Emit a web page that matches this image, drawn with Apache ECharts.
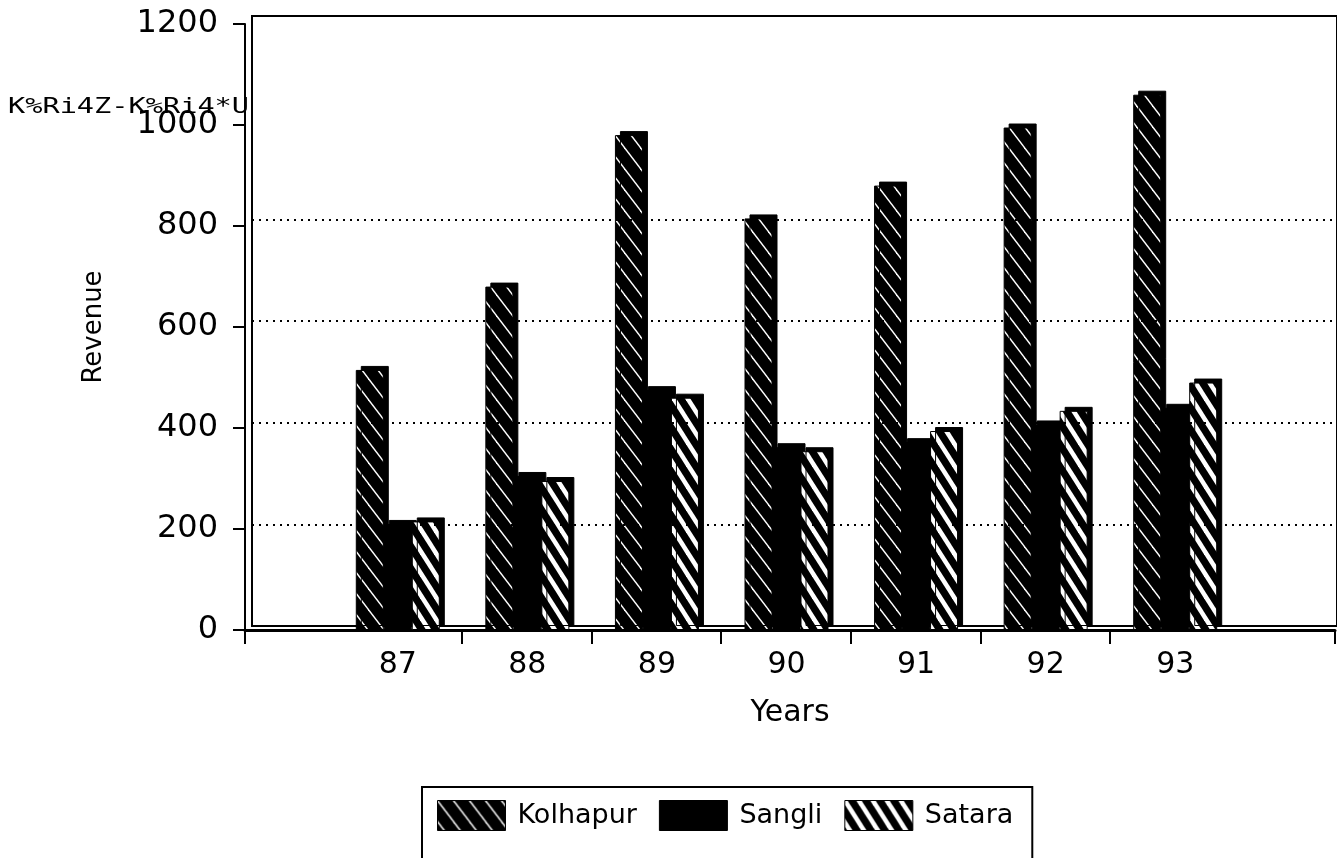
<!DOCTYPE html>
<html>
<head>
<meta charset="utf-8">
<script src="https://cdn.jsdelivr.net/npm/echarts@6/dist/echarts.min.js"></script>
<style>
html,body{margin:0;padding:0;background:#fff;}
#chart{width:1337px;height:858px;}
</style>
</head>
<body>
<div id="chart"></div>
<script>
// ---- data ----
const categories = ['87', '88', '89', '90', '91', '92', '93'];
const seriesNames = ['Kolhapur', 'Sangli', 'Satara'];
const kolhapur = [515, 680, 980, 815, 880, 995, 1060];
const sangli = [210, 305, 475, 362, 372, 407, 440];
const satara = [215, 295, 460, 354, 394, 434, 490];
const gridValues = [200, 400, 600, 800];
const yMin = 0, yMax = 1200, yStep = 200;
const garbledText = 'K%Ri4Z-K%Ri4*U';

// ---- patterns ----
function hatch(W, H, lw) {
  const c = document.createElement('canvas');
  c.width = W; c.height = H;
  const g = c.getContext('2d');
  g.fillStyle = '#000'; g.fillRect(0, 0, W, H);
  g.strokeStyle = '#fff'; g.lineWidth = lw;
  for (let k = -1; k <= 1; k++) {
    g.beginPath();
    g.moveTo(k * W - W, -H);
    g.lineTo(k * W + 2 * W, 2 * H);
    g.stroke();
  }
  return c;
}
const patKol = { image: hatch(16, 21, 1.4), repeat: 'repeat' };
const patSat = { image: hatch(14, 22, 4.5), repeat: 'repeat' };

const FONT = 'DejaVu Sans';
const chart = echarts.init(document.getElementById('chart'), null, { renderer: 'canvas' });

// frame x range so that category boundaries sit on integers
const xMinF = -0.674, xMaxF = 7.736;

function barSeries(name, data, color) {
  return {
    name: name, type: 'bar', xAxisIndex: 1, yAxisIndex: 1,
    data: data, barWidth: 28, barGap: '0%',
    itemStyle: {
      color: color, borderColor: '#000', borderWidth: 1,
      shadowColor: '#000', shadowBlur: 0, shadowOffsetX: 5, shadowOffsetY: -4
    },
    z: 3
  };
}

const option = {
  animation: false,
  backgroundColor: '#fff',
  textStyle: { fontFamily: FONT, color: '#000' },
  grid: [
    { left: 245, right: 2, top: 24, bottom: 228 },           // front frame
    { left: 333, right: 97, top: 24, bottom: 228 },          // bars
    { left: 252, right: -5, top: 16, bottom: 232, show: true, borderColor: '#000', borderWidth: 2, backgroundColor: 'transparent' } // back wall
  ],
  xAxis: [
    {
      gridIndex: 0, type: 'value', min: xMinF, max: xMaxF,
      name: 'Years', nameLocation: 'middle', nameGap: 68,
      nameTextStyle: { fontSize: 30, fontFamily: FONT, color: '#000' },
      axisLine: { show: true, onZero: false, lineStyle: { color: '#000', width: 3 } },
      axisTick: { show: true, length: 14, lineStyle: { color: '#000', width: 2 },
        customValues: [xMinF, 1, 2, 3, 4, 5, 6, xMaxF] },
      axisLabel: { show: false },
      splitLine: { show: false }
    },
    {
      gridIndex: 1, type: 'category', data: categories,
      axisLine: { show: false }, axisTick: { show: false },
      axisLabel: { fontSize: 30, fontFamily: FONT, color: '#000', margin: 20 },
      splitLine: { show: false }
    },
    { gridIndex: 2, type: 'value', min: 0, max: 1, show: false }
  ],
  yAxis: [
    {
      gridIndex: 0, type: 'value', min: yMin, max: yMax, interval: yStep,
      name: 'Revenue', nameLocation: 'middle', nameGap: 138, nameRotate: 90,
      nameTextStyle: { fontSize: 26, fontFamily: FONT, color: '#000' },
      axisLine: { show: true, onZero: false, lineStyle: { color: '#000', width: 2 } },
      axisTick: { show: true, length: 12, lineStyle: { color: '#000', width: 2 } },
      axisLabel: { fontSize: 32, fontFamily: FONT, color: '#000', margin: 27,
        formatter: v => String(v) },
      splitLine: { show: false }
    },
    { gridIndex: 1, type: 'value', min: yMin, max: yMax, show: false },
    { gridIndex: 2, type: 'value', min: yMin, max: yMax, show: false }
  ],
  legend: {
    data: seriesNames,
    left: 422, top: 787,
    orient: 'horizontal',
    icon: 'rect',
    itemWidth: 68, itemHeight: 30, itemGap: 22,
    padding: [13, 19, 40, 15],
    borderColor: '#000', borderWidth: 2,
    itemStyle: { borderColor: '#000', borderWidth: 1, shadowBlur: 0, shadowOffsetX: 0, shadowOffsetY: 0, shadowColor: 'transparent' },
    textStyle: { fontSize: 27, fontFamily: FONT, color: '#000', padding: [0, 0, 0, 7] }
  },
  graphic: [
    {
      type: 'text', left: 8, top: 96, z: 100,
      scaleX: 1.3,
      style: { text: garbledText, font: '22px "DejaVu Sans Mono"', fill: '#000' }
    }
  ],
  series: [
    {
      name: 'grid', type: 'line', xAxisIndex: 2, yAxisIndex: 2, data: [],
      silent: true, z: 1,
      markLine: {
        silent: true, symbol: 'none', animation: false,
        label: { show: false },
        lineStyle: { color: '#000', type: [2, 5], width: 2 },
        data: gridValues.map(v => ({ yAxis: v }))
      }
    },
    barSeries(seriesNames[0], kolhapur, patKol),
    barSeries(seriesNames[1], sangli, '#000'),
    barSeries(seriesNames[2], satara, patSat)
  ]
};
chart.setOption(option);
</script>
</body>
</html>
